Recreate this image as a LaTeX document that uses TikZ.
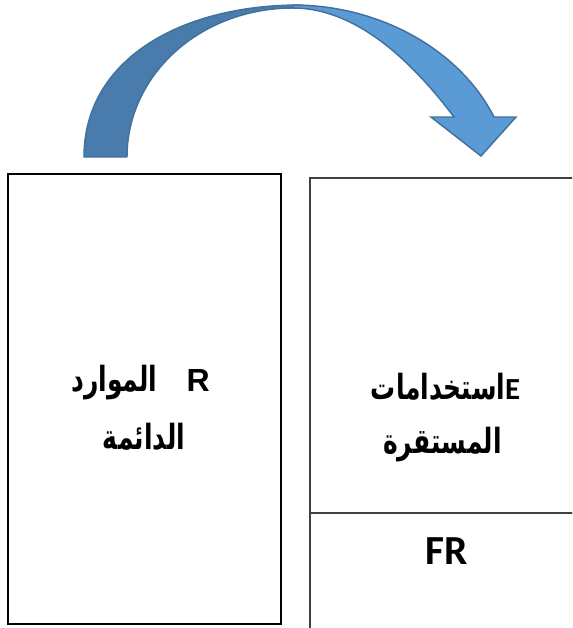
\documentclass[tikz,border=0pt]{standalone}
\usepackage{fontspec}
\TeXXeTstate=1
\newfontfamily\arabicfont[Script=Arabic, FakeStretch=0.72]{DejaVu Sans}
\newfontfamily\arialfont{Liberation Sans}
\newfontfamily\calfont{Carlito}
\definecolor{darkband}{HTML}{497CAC}
\definecolor{lightband}{HTML}{5B9BD5}
\definecolor{bandline}{HTML}{41719C}
\definecolor{rightline}{HTML}{404040}
\tikzset{
  leftbox/.style={draw=black, line width=1.1pt, inner sep=0pt},
  rightbox/.style={draw=rightline, line width=1.4pt, inner sep=0pt},
  arrowdark/.style={fill=darkband, draw=bandline, line width=1.1pt, line join=round},
  arrowlight/.style={fill=lightband, draw=bandline, line width=1.1pt, line join=miter},
  artext/.style={inner sep=0pt, anchor=base, font=\bfseries\fontsize{26}{30}\selectfont},
  frtext/.style={inner sep=0pt, anchor=base, font=\calfont\bfseries\fontsize{31}{36}\selectfont}
}
\begin{document}
\begin{tikzpicture}[x=0.75pt,y=-0.75pt]
\clip (0,0) rectangle (572,628);
\fill[white] (0,0) rectangle (572,628);
% boxes
\node[leftbox, minimum width=204.75pt, minimum height=337.5pt] (lbox) at (144.5,399) {};
\node[rightbox, minimum width=210pt, minimum height=251.25pt] (rtop) at (450,345.5) {};
\node[rightbox, minimum width=210pt, minimum height=110.25pt] (rbot) at (450,586.5) {};
% curved arrow
\path[arrowdark] (84,157) .. controls (84,60) and (180,5) .. (300,5)
  -- (293,8) .. controls (200,8) and (127,75) .. (127,157) -- cycle;
\path[arrowlight] (293,5) .. controls (380,5) and (460,50) .. (494,117)
  -- (516,117) -- (481,156) -- (431,117) -- (454,117)
  .. controls (399,44) and (345,8) .. (293,8) -- cycle;
% texts
\node[artext] (l1) at (140.5,391) {{\arabicfont\beginR الموارد\endR}\hspace{22pt}{\arialfont\fontsize{24}{28}\selectfont R}};
\node[artext] (l2) at (144,449) {\arabicfont\beginR الدائمة\endR};
\node[artext] (r1) at (445.5,399) {{\arabicfont\beginR استخدامات\endR}{\calfont\fontsize{23}{26}\selectfont E}};
\node[artext] (r2) at (442.5,453) {\arabicfont\beginR المستقرة\endR};
\node[frtext] (fr) at (446.5,564) {FR};
\end{tikzpicture}
\end{document}
